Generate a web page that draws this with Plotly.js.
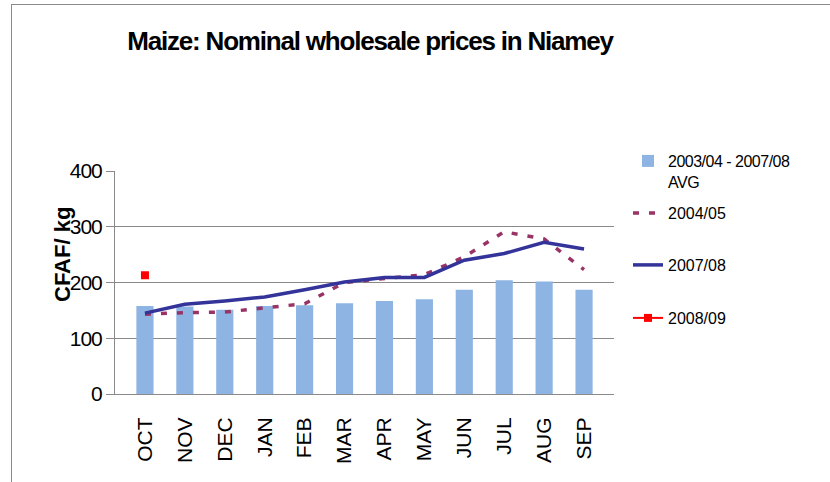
<!DOCTYPE html>
<html>
<head>
<meta charset="utf-8">
<script src="https://cdn.plot.ly/plotly-3.0.1.min.js"></script>
<style>
html,body{margin:0;padding:0;background:#fff;}
#wrap{position:relative;width:830px;height:482px;overflow:hidden;}
#chart{position:absolute;left:0;top:0;width:830px;height:482px;}
#frame{position:absolute;left:11px;top:4px;right:0;bottom:0;border-left:1px solid #8a8a8a;border-top:1px solid #8a8a8a;pointer-events:none;}
#chart .gtitle{letter-spacing:-1.2px;}
#chart .ytick text{letter-spacing:-1px;}
#chart .legendtext{letter-spacing:-0.5px;}
</style>
</head>
<body>
<div id="wrap"><div id="chart"></div><div id="frame"></div></div>
<script>
const months = ["OCT","NOV","DEC","JAN","FEB","MAR","APR","MAY","JUN","JUL","AUG","SEP"];
const avg0304_0708 = [158,157,151,158,159,163,167,170,187,204,202,187];
const y2004_05 = [143,146,147,155,162,200,207,214,246,291,278,223];
const y2007_08 = [145,161,167,174,187,201,209,209,240,252,272,260];
const y2008_09 = [213,null,null,null,null,null,null,null,null,null,null,null];

const SANS = "Liberation Sans, Arial, sans-serif";

const traces = [
  {type:"bar", x:months, y:avg0304_0708, name:"2003/04 - 2007/08<br>AVG",
   marker:{color:"#8EB4E3"}, legend:"legend", hoverinfo:"skip"},
  {type:"scatter", mode:"lines", x:months, y:y2004_05, name:"2004/05",
   line:{color:"#993366", width:3.5, dash:"6px,10px"}, legend:"legend2"},
  {type:"scatter", mode:"lines", x:months, y:y2007_08, name:"2007/08",
   line:{color:"#333399", width:3.5}, legend:"legend3"},
  {type:"scatter", mode:"lines+markers", x:months, y:y2008_09, name:"2008/09",
   line:{color:"#FF0000", width:2}, marker:{color:"#FF0000", symbol:"square", size:8}, legend:"legend4"}
];

function leg(ytop){
  return {x:628/830, xanchor:"left", xref:"container", yref:"container", y:1-ytop/482, yanchor:"top",
          bgcolor:"rgba(0,0,0,0)", borderwidth:0, font:{family:SANS, size:16, color:"#000"},
          valign:"top", traceorder:"normal"};
}

const layout = {
  width:830, height:482,
  margin:{l:115, r:216, t:171, b:88, pad:0},
  paper_bgcolor:"#fff", plot_bgcolor:"#fff",
  title:{text:"<b>Maize: Nominal wholesale prices in Niamey</b>", xref:"container", yref:"container",
         x:370/830, xanchor:"center", y:1-41/482, yanchor:"middle",
         font:{family:SANS, size:26, color:"#000"}},
  bargap:0.57,
  showlegend:true,
  legend:leg(144), legend2:leg(196), legend3:leg(248), legend4:leg(301),
  xaxis:{type:"category", tickangle:-90, tickfont:{family:SANS, size:21, color:"#000"},
         showline:true, linecolor:"#8a8a8a", linewidth:1, showgrid:false, ticks:"",
         ticklabelstandoff:14, fixedrange:true},
  yaxis:{range:[0,400], dtick:100, tick0:0, showgrid:true, gridcolor:"#8a8a8a", gridwidth:1,
         showline:true, linecolor:"#8a8a8a", linewidth:1, ticks:"outside", ticklen:8, tickcolor:"#8a8a8a",
         tickfont:{family:SANS, size:21, color:"#000"}, zeroline:false, fixedrange:true},
  annotations:[{text:"<b>CFAF/ kg</b>", xref:"paper", yref:"paper", x:(62-115)/499, y:(394-255)/223,
                xanchor:"center", yanchor:"middle", textangle:-90, showarrow:false,
                font:{family:SANS, size:22, color:"#000"}}]
};

Plotly.newPlot("chart", traces, layout, {staticPlot:true, displayModeBar:false});
</script>
</body>
</html>
